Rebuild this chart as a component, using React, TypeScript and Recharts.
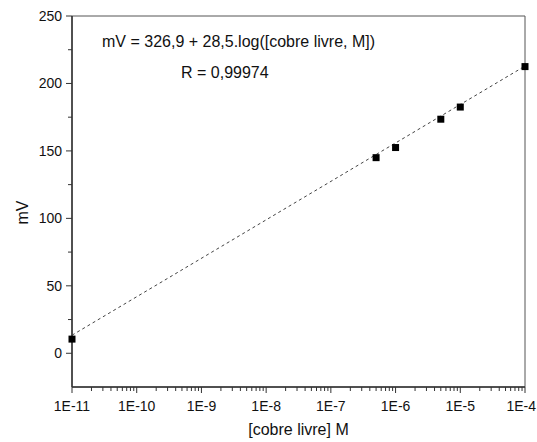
import React from 'react';
import { ComposedChart, Scatter, XAxis, YAxis, ReferenceArea } from 'recharts';

// Measured points: free copper concentration (M) vs potential (mV)
const concentrations = [1e-11, 5e-7, 1e-6, 5e-6, 1e-5, 1e-4];
const potentials = [10.5, 145, 152.5, 173.5, 182.5, 212.5];

// Fitted line endpoints (mV = 326,9 + 28,5.log[Cu])
const fitConcentrations = [1e-11, 1e-4];
const fitPotentials = [13.4, 212.9];

const xMajorTicks = [1e-11, 1e-10, 1e-9, 1e-8, 1e-7, 1e-6, 1e-5, 1e-4];
const xTickLabels = ['1E-11', '1E-10', '1E-9', '1E-8', '1E-7', '1E-6', '1E-5', '1E-4'];
const xMinorMultipliers = [2, 3, 4, 5, 6, 7, 8, 9];

const yMajorTicks = [0, 50, 100, 150, 200, 250];
const yMinorTicks = [25, 75, 125, 175, 225];

const equationText = 'mV = 326,9 + 28,5.log([cobre livre, M])';
const rText = 'R = 0,99974';
const xTitle = '[cobre livre] M';
const yTitle = 'mV';

const points = concentrations.map((c, i) => ({ x: c, y: potentials[i] }));
const fitLine = fitConcentrations.map((c, i) => ({ x: c, y: fitPotentials[i] }));

const xMinorTicks: number[] = [];
xMajorTicks.slice(0, -1).forEach((d) => xMinorMultipliers.forEach((m) => xMinorTicks.push(d * m)));
const xAllTicks = [...xMajorTicks, ...xMinorTicks];
const yAllTicks = [...yMajorTicks, ...yMinorTicks].sort((a, b) => a - b);

const FONT = '"Liberation Sans", Arial, sans-serif';
const AXIS_COLOR = '#333';
const CHART_W = 537;

const majorIndex = (v: number) =>
  xMajorTicks.findIndex((t) => Math.abs(Math.log10(t) - Math.log10(v)) < 1e-6);

const XTick = (props: any) => {
  const { x, y, payload } = props;
  const idx = majorIndex(payload.value);
  const major = idx >= 0;
  const label = major ? xTickLabels[idx] : '';
  const approxHalf = label.length * 3.8;
  const overflow = x + approxHalf > CHART_W - 1;
  return (
    <g>
      <line x1={x} x2={x} y1={y} y2={y + (major ? 6 : 4)} stroke={AXIS_COLOR} strokeWidth={1} />
      {major && (
        <text
          x={overflow ? CHART_W - 1 : x}
          y={y + 24}
          textAnchor={overflow ? 'end' : 'middle'}
          fontSize={14}
          fontFamily={FONT}
          fill="#111"
        >
          {label}
        </text>
      )}
    </g>
  );
};

const YTick = (props: any) => {
  const { x, y, payload } = props;
  const major = yMajorTicks.includes(payload.value);
  return (
    <g>
      <line x1={x} x2={x - (major ? 6 : 4)} y1={y} y2={y} stroke={AXIS_COLOR} strokeWidth={1} />
      {major && (
        <text x={x - 10} y={y + 5} textAnchor="end" fontSize={14} fontFamily={FONT} fill="#111">
          {payload.value}
        </text>
      )}
    </g>
  );
};

const Annotations = (props: any) => {
  const vb = props.viewBox || { x: 72, y: 16, width: 453, height: 371 };
  return (
    <g fontFamily={FONT} fill="#111">
      <text x={vb.x + 30} y={vb.y + 31} fontSize={16}>{equationText}</text>
      <text x={vb.x + 109} y={vb.y + 62} fontSize={16}>{rText}</text>
      <text x={vb.x + vb.width / 2} y={vb.y + vb.height + 48} fontSize={16} textAnchor="middle">
        {xTitle}
      </text>
      <text
        x={28}
        y={vb.y + vb.height / 2 + 11}
        fontSize={16}
        textAnchor="middle"
        transform={`rotate(-90, 28, ${vb.y + vb.height / 2 + 11})`}
      >
        {yTitle}
      </text>
    </g>
  );
};

const Square = (props: any) => {
  const { cx, cy } = props;
  if (cx == null || cy == null) return null;
  return <rect x={cx - 3.5} y={cy - 3.5} width={7} height={7} fill="#000" />;
};

export default function App() {
  return (
    <div style={{ position: 'absolute', left: 0, top: 0, background: '#fff' }}>
      <ComposedChart
        width={CHART_W}
        height={442}
        margin={{ top: 16, right: 12, left: 0, bottom: 0 }}
        style={{ fontFamily: FONT }}
      >
        <XAxis
          dataKey="x"
          type="number"
          scale="log"
          domain={[1e-11, 1e-4]}
          ticks={xAllTicks}
          interval={0}
          tick={<XTick />}
          tickLine={false}
          tickSize={0}
          tickMargin={0}
          height={55}
          axisLine={{ stroke: AXIS_COLOR, strokeWidth: 1.5 }}
        />
        <YAxis
          dataKey="y"
          type="number"
          domain={[-25, 250]}
          ticks={yAllTicks}
          interval={0}
          tick={<YTick />}
          tickLine={false}
          tickSize={0}
          tickMargin={0}
          width={72}
          axisLine={{ stroke: AXIS_COLOR, strokeWidth: 1.5 }}
        />
        <ReferenceArea
          x1={1e-11}
          x2={1e-4}
          y1={-25}
          y2={250}
          fill="none"
          fillOpacity={0}
          stroke="#555"
          strokeWidth={1}
          label={<Annotations />}
          ifOverflow="visible"
        />
        <Scatter
          data={fitLine}
          line={{ stroke: '#444', strokeWidth: 1, strokeDasharray: '3 3' }}
          shape={() => null}
          isAnimationActive={false}
        />
        <Scatter data={points} shape={<Square />} isAnimationActive={false} />
      </ComposedChart>
    </div>
  );
}
